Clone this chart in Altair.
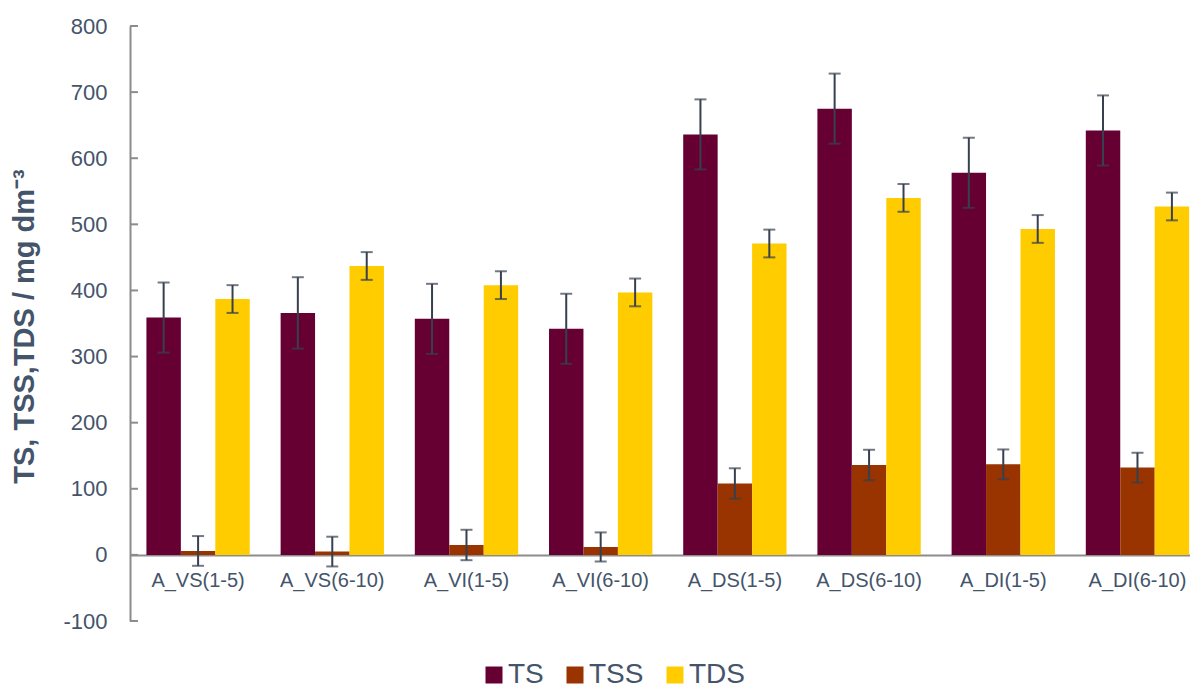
import altair as alt
import pandas as pd

categories = ["A_VS(1-5)", "A_VS(6-10)", "A_VI(1-5)", "A_VI(6-10)",
              "A_DS(1-5)", "A_DS(6-10)", "A_DI(1-5)", "A_DI(6-10)"]
series = ["TS", "TSS", "TDS"]
colors = ["#660033", "#993300", "#FFCC00"]

ts = [359, 366, 357, 342, 636, 675, 578, 642]
ts_err = [53, 54, 53, 53, 53, 53, 53, 53]
tss = [6, 5, 15, 12, 108, 136, 137, 132]
tss_err = [22.5, 22.5, 23, 22, 23, 23, 22.5, 22.5]
tds = [387, 437, 408, 397, 471, 540, 493, 527]
tds_err = [21, 21, 21, 21, 21, 21, 21, 21]

y_ticks = [-100, 0, 100, 200, 300, 400, 500, 600, 700, 800]

rows = []
for s, vals, errs in zip(series, [ts, tss, tds], [ts_err, tss_err, tds_err]):
    for c, v, e in zip(categories, vals, errs):
        rows.append({"cat": c, "series": s, "value": v, "lo": v - e, "hi": v + e})
df = pd.DataFrame(rows)
tick_df = pd.DataFrame({"v": y_ticks})

FONT = "Liberation Sans"
TEXT = "#44546A"
AXIS = "#8C8C8C"
ERR = "#36404F"
W = 1060
H = 595
TITLE = "TS, TSS,TDS / mg dm⁻³"

x_scale = alt.Scale(paddingInner=0.23, paddingOuter=0.0644, align=0.95)
xo_scale = alt.Scale(paddingInner=0, paddingOuter=0)
y_scale = alt.Scale(domain=[-100, 800], nice=False, zero=False)

x_axis = alt.Axis(title=None, labelAngle=0, ticks=False, grid=False, domainColor=AXIS,
                  domainWidth=2, labelFont=FONT, labelFontSize=20, labelColor=TEXT,
                  labelPadding=16, offset=-H / 9)
y_axis = alt.Axis(title=TITLE, values=y_ticks, ticks=False, grid=False, domainColor=AXIS,
                  domainWidth=2, labelFont=FONT, labelFontSize=22, labelColor=TEXT,
                  labelPadding=23, labelExpr="'' + datum.value",
                  titleFont=FONT, titleFontSize=29, titleFontWeight="bold",
                  titleColor=TEXT, titleAngle=270, titleX=-97, titleY=300,
                  titleAlign="center", titleBaseline="alphabetic")


def xenc():
    return alt.X("cat:N", sort=categories, scale=x_scale, axis=x_axis)


def xoenc():
    return alt.XOffset("series:N", sort=series, scale=xo_scale)


def yenc(field):
    return alt.Y(field, scale=y_scale, axis=y_axis, title=TITLE)


bars = alt.Chart(df).mark_bar().encode(
    x=xenc(),
    xOffset=xoenc(),
    y=yenc("value:Q"),
    color=alt.Color("series:N", sort=series,
                    scale=alt.Scale(domain=series, range=colors),
                    legend=alt.Legend(title=None, orient="none", legendX=350, legendY=635,
                                      direction="horizontal", symbolType="square",
                                      symbolSize=289, symbolStrokeWidth=0,
                                      labelFont=FONT, labelFontSize=28, labelColor=TEXT,
                                      labelOffset=0, columnPadding=17, padding=0)),
)

err_line = alt.Chart(df).mark_rule(color=ERR, strokeWidth=2).encode(
    x=xenc(), xOffset=xoenc(), y=yenc("lo:Q"), y2="hi:Q",
)
cap_hi = alt.Chart(df).mark_tick(color=ERR, thickness=2, size=12, orient="horizontal").encode(
    x=xenc(), xOffset=xoenc(), y=yenc("hi:Q"),
)
cap_lo = alt.Chart(df).mark_tick(color=ERR, thickness=2, size=12, orient="horizontal").encode(
    x=xenc(), xOffset=xoenc(), y=yenc("lo:Q"),
)
ytick_marks = alt.Chart(tick_df).mark_rule(color=AXIS, strokeWidth=2).encode(
    y=yenc("v:Q"),
    x=alt.value(0),
    x2=alt.value(8),
)

chart = alt.layer(bars, err_line, cap_hi, cap_lo, ytick_marks).properties(
    width=W, height=H,
    background="white",
    autosize=alt.AutoSizeParams(type="none"),
    padding={"left": 122, "top": 18, "right": 0, "bottom": 72},
).configure_view(stroke=None, strokeWidth=0)

chart.save("out.html", embed_options={"renderer": "svg", "actions": False})
